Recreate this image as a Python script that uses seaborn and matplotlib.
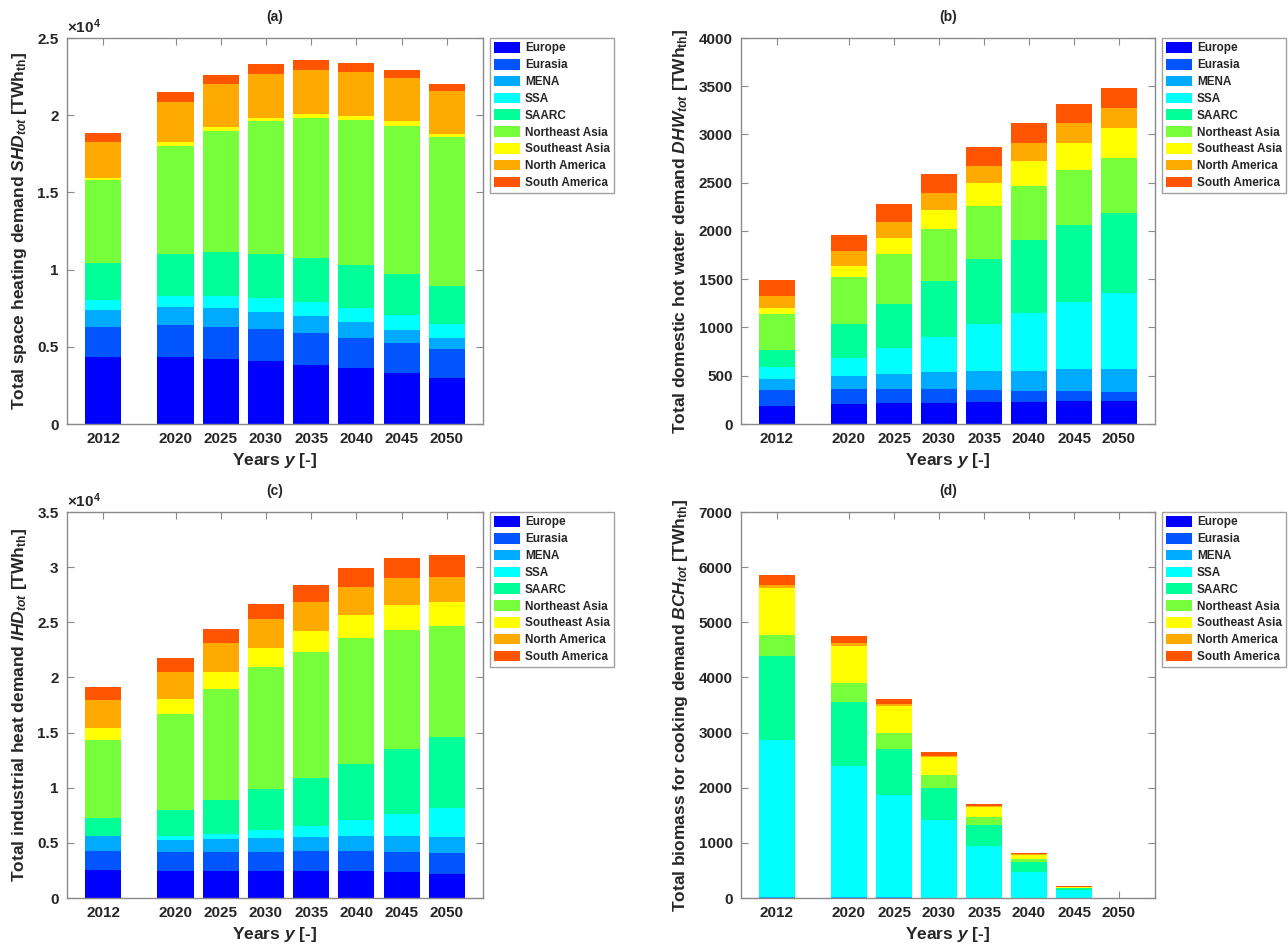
import numpy as np
import pandas as pd
import matplotlib
matplotlib.use("Agg")
import matplotlib.pyplot as plt
from matplotlib.patches import Patch
from matplotlib.ticker import FuncFormatter
import seaborn as sns

# years on the x axis (bars sit at the real year values)
years = [2012, 2020, 2025, 2030, 2035, 2040, 2045, 2050]
regions = ["Europe", "Eurasia", "MENA", "SSA", "SAARC", "Northeast Asia",
           "Southeast Asia", "North America", "South America"]
region_colors = ["#0000ff", "#0055ff", "#00aaff", "#00ffff", "#00ff99",
                 "#77ff3c", "#ffff00", "#ffaa00", "#ff5500"]

# (a) space heating demand, TWh_th, one list per region (2012..2050)
shd_europe = [4350, 4350, 4240, 4090, 3850, 3600, 3310, 2990]
shd_eurasia = [1940, 2050, 2050, 2050, 2050, 2000, 1940, 1850]
shd_mena = [1120, 1180, 1200, 1140, 1120, 990, 820, 740]
shd_ssa = [590, 690, 780, 860, 860, 950, 990, 920]
shd_saarc = [2450, 2760, 2840, 2890, 2860, 2780, 2630, 2430]
shd_ne_asia = [5360, 6990, 7880, 8570, 9110, 9400, 9620, 9630]
shd_se_asia = [130, 220, 260, 250, 220, 260, 290, 220]
shd_n_america = [2300, 2630, 2760, 2800, 2880, 2840, 2800, 2800]
shd_s_america = [600, 640, 600, 650, 610, 580, 510, 470]

# (b) domestic hot water demand, TWh_th
dhw_europe = [189, 207, 214, 220, 227, 227, 234, 238]
dhw_eurasia = [162, 151, 144, 138, 124, 118, 107, 93]
dhw_mena = [111, 138, 159, 179, 197, 206, 224, 234]
dhw_ssa = [124, 193, 272, 366, 486, 603, 703, 792]
dhw_saarc = [186, 345, 458, 575, 671, 748, 796, 834]
dhw_ne_asia = [372, 489, 517, 541, 551, 561, 568, 568]
dhw_se_asia = [55, 113, 165, 203, 238, 259, 282, 307]
dhw_n_america = [131, 152, 166, 172, 183, 192, 200, 207]
dhw_s_america = [158, 172, 182, 193, 196, 204, 207, 206]

# (c) industrial heat demand, TWh_th
ihd_europe = [2570, 2420, 2420, 2420, 2420, 2420, 2330, 2210]
ihd_eurasia = [1665, 1724, 1724, 1724, 1815, 1815, 1814, 1870]
ihd_mena = [1365, 1090, 1210, 1271, 1301, 1425, 1516, 1456]
ihd_ssa = [60, 370, 460, 725, 1024, 1450, 1990, 2604]
ihd_saarc = [1600, 2360, 3050, 3780, 4300, 5080, 5870, 6440]
ihd_ne_asia = [7050, 8680, 10110, 11010, 11460, 11340, 10800, 10070]
ihd_se_asia = [1120, 1420, 1510, 1700, 1910, 2090, 2210, 2210]
ihd_n_america = [2510, 2450, 2600, 2630, 2570, 2570, 2450, 2270]
ihd_s_america = [1210, 1240, 1270, 1420, 1600, 1730, 1810, 1940]

# (d) biomass for cooking demand, TWh_th
bch_europe = [0, 0, 0, 0, 0, 0, 0, 0]
bch_eurasia = [0, 0, 0, 0, 0, 0, 0, 0]
bch_mena = [25, 20, 10, 5, 0, 0, 0, 0]
bch_ssa = [2841, 2375, 1854, 1413, 947, 465, 151, 0]
bch_saarc = [1521, 1153, 833, 585, 374, 181, 24, 0]
bch_ne_asia = [380, 344, 302, 230, 139, 60, 6, 0]
bch_se_asia = [863, 682, 483, 331, 199, 78, 18, 0]
bch_n_america = [54, 42, 30, 19, 18, 12, 6, 0]
bch_s_america = [169, 139, 96, 60, 31, 25, 12, 0]

panels = [
    ("(a)", r"Total space heating demand $\mathit{SHD}_{\mathit{tot}}$ [TWh$_{\mathrm{th}}$]",
     [shd_europe, shd_eurasia, shd_mena, shd_ssa, shd_saarc, shd_ne_asia,
      shd_se_asia, shd_n_america, shd_s_america], 25000, 5000, True),
    ("(b)", r"Total domestic hot water demand $\mathit{DHW}_{\mathit{tot}}$ [TWh$_{\mathrm{th}}$]",
     [dhw_europe, dhw_eurasia, dhw_mena, dhw_ssa, dhw_saarc, dhw_ne_asia,
      dhw_se_asia, dhw_n_america, dhw_s_america], 4000, 500, False),
    ("(c)", r"Total industrial heat demand $\mathit{IHD}_{\mathit{tot}}$ [TWh$_{\mathrm{th}}$]",
     [ihd_europe, ihd_eurasia, ihd_mena, ihd_ssa, ihd_saarc, ihd_ne_asia,
      ihd_se_asia, ihd_n_america, ihd_s_america], 35000, 5000, True),
    ("(d)", r"Total biomass for cooking demand $\mathit{BCH}_{\mathit{tot}}$ [TWh$_{\mathrm{th}}$]",
     [bch_europe, bch_eurasia, bch_mena, bch_ssa, bch_saarc, bch_ne_asia,
      bch_se_asia, bch_n_america, bch_s_america], 7000, 1000, False),
]

sns.set_style("ticks")
plt.rcParams["font.family"] = ["Liberation Sans", "DejaVu Sans"]
plt.rcParams["font.weight"] = "bold"
plt.rcParams["axes.labelweight"] = "bold"
plt.rcParams["mathtext.fontset"] = "custom"
plt.rcParams["mathtext.rm"] = "Liberation Sans:bold"
plt.rcParams["mathtext.it"] = "Liberation Sans:italic:bold"
plt.rcParams["mathtext.bf"] = "Liberation Sans:bold"
text_col = "#262626"
frame_col = "#8a8a8a"

fig = plt.figure(figsize=(12.88, 9.47), dpi=100)
W, H = 1288, 947
# axes boxes in pixels: left, top, right, bottom
boxes = [(67, 38, 483, 424), (741, 38, 1155, 424),
         (67, 512, 483, 898), (741, 512, 1155, 898)]

for (title, ylab, series, ymax, ystep, sci), (l, t, r, b) in zip(panels, boxes):
    ax = fig.add_axes([l / W, 1 - b / H, (r - l) / W, (b - t) / H])
    vals = np.array(series, dtype=float)
    cum = np.cumsum(vals, axis=0)
    # draw from the top of the stack down, each layer covering the one above
    for k in range(len(regions) - 1, -1, -1):
        df = pd.DataFrame({"year": years, "value": cum[k]})
        sns.barplot(data=df, x="year", y="value", native_scale=True,
                    color=region_colors[k], saturation=1, errorbar=None,
                    width=0.8, linewidth=0, ax=ax)

    ax.set_xlim(2008, 2054)
    ax.set_ylim(0, ymax)
    ax.set_xticks(years)
    ax.set_xticklabels([str(y) for y in years])
    ax.set_yticks(np.arange(0, ymax + 1, ystep))
    if sci:
        ax.yaxis.set_major_formatter(FuncFormatter(lambda v, p: f"{v / 1e4:g}"))
        ax.text(0.0, 1.004, r"$\times$10$^{\mathbf{4}}$", transform=ax.transAxes,
                ha="left", va="bottom", fontsize=11, color=text_col)
    else:
        ax.yaxis.set_major_formatter(FuncFormatter(lambda v, p: f"{v:g}"))

    ax.tick_params(direction="in", top=True, right=True, length=5, width=0.8,
                   color=frame_col, labelsize=11, labelcolor=text_col, pad=6)
    for sp in ax.spines.values():
        sp.set_visible(True)
        sp.set_color(frame_col)
        sp.set_linewidth(1.0)

    ax.set_xlabel(r"Years $\mathit{y}$ [-]", fontsize=12.5, color=text_col, labelpad=3)
    ax.set_ylabel(ylab, fontsize=12.5, color=text_col, labelpad=6)
    ax.set_title(title, fontsize=10, fontweight="bold", color=text_col, pad=12)

    handles = [Patch(facecolor=c, edgecolor="none") for c in region_colors]
    leg = ax.legend(handles, regions, loc="upper left",
                    bbox_to_anchor=(1 + 7 / (r - l), 1.0), borderaxespad=0,
                    frameon=True, fancybox=False, fontsize=8.5,
                    handlelength=2.2, handleheight=1.0, handletextpad=0.4,
                    labelspacing=0.38, borderpad=0.35)
    leg.get_frame().set_edgecolor(frame_col)
    leg.get_frame().set_linewidth(1.0)
    for txt in leg.get_texts():
        txt.set_color(text_col)
        txt.set_fontweight("bold")

fig.savefig("out.png", dpi=100)
